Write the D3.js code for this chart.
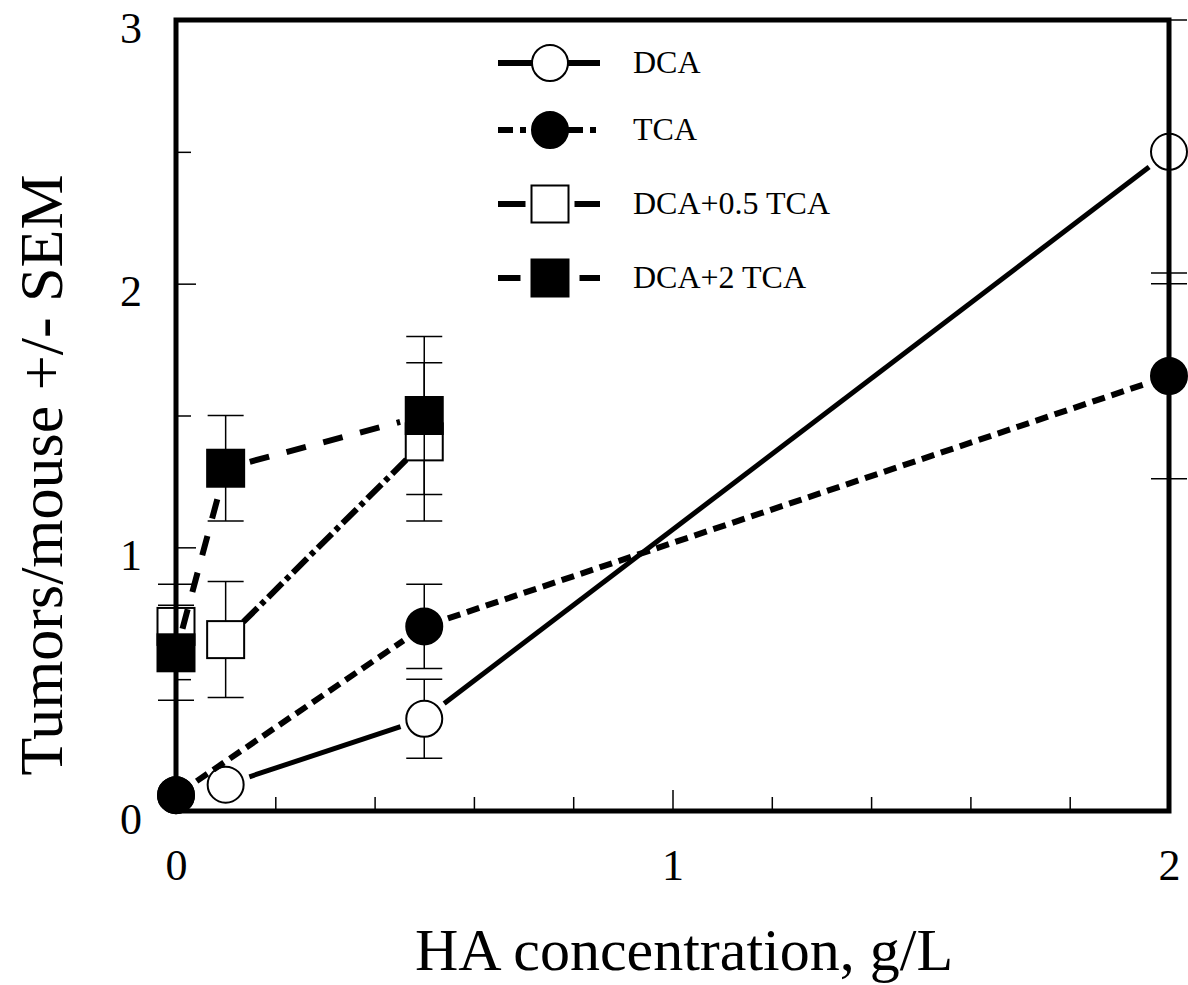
<!DOCTYPE html>
<html>
<head>
<meta charset="utf-8">
<script src="https://cdn.jsdelivr.net/npm/d3@7"></script>
<style>
  body { margin: 0; background: #fff; }
  text { font-family: "Liberation Serif", "Times New Roman", serif; fill: #000; }
</style>
</head>
<body>
<script>
// values
const seriesNames = ["DCA", "TCA", "DCA+0.5 TCA", "DCA+2 TCA"];

const dcaX = [0, 0.1, 0.5, 2];
const dcaY = [0.06, 0.10, 0.35, 2.50];
const dcaErr = [0, 0, 0.15, 0.50];

const tcaX = [0, 0.5, 2];
const tcaY = [0.06, 0.70, 1.65];
const tcaErr = [0, 0.16, 0.39];

const mix05X = [0, 0.1, 0.5];
const mix05Y = [0.70, 0.65, 1.40];
const mix05Err = [0.16, 0.22, 0.30];

const mix2X = [0, 0.1, 0.5];
const mix2Y = [0.60, 1.30, 1.50];
const mix2Err = [0.18, 0.20, 0.30];

const xLabels = [0, 1, 2];
const yLabels = [0, 1, 2, 3];
const xMinor = [0.2, 0.4, 0.6, 0.8, 1.2, 1.4, 1.6, 1.8];
const yMinor = [0.5, 1.5, 2.5];
const yMajor = [1, 2];

const SERIF = "'Liberation Serif', 'Times New Roman', serif";

function zip(xs, ys, es) {
  return xs.map((x, i) => ({x: x, y: ys[i], e: es[i]}));
}

const series = [
  {name: seriesNames[0], pts: zip(dcaX, dcaY, dcaErr), shape: "circle", fill: "#fff", dash: null, width: 5, legDash: null, legGap: 0},
  {name: seriesNames[1], pts: zip(tcaX, tcaY, tcaErr), shape: "circle", fill: "#000", dash: "13,7", width: 6, legDash: "15,7,6,7", legGap: 0},
  {name: seriesNames[2], pts: zip(mix05X, mix05Y, mix05Err), shape: "square", fill: "#fff", dash: "20,5,5,5", width: 6, legDash: null, legGap: 6},
  {name: seriesNames[3], pts: zip(mix2X, mix2Y, mix2Err), shape: "square", fill: "#000", dash: "20,18", width: 6, legDash: null, legGap: 11}
];

const W = 1188, H = 985;
const svg = d3.select("body").append("svg")
  .attr("width", W)
  .attr("height", H);

const x = d3.scaleLinear().domain([0, 2]).range([176, 1169]);
const y = d3.scaleLinear().domain([0, 3]).range([811, 20]);

const R = 18, S = 37, CAP = 18, TRIM = 25;

// ticks inside the frame
const gx = svg.append("g").attr("transform", "translate(0," + y(0) + ")");
gx.call(d3.axisBottom(x).tickValues(xMinor).tickSize(-14).tickFormat(""));
gx.append("g").call(d3.axisBottom(x).tickValues([1]).tickSize(-21).tickFormat(""));
gx.append("g").attr("class", "lab").call(d3.axisBottom(x).tickValues(xLabels).tickSize(0).tickFormat(d3.format("d")));

const gy = svg.append("g").attr("transform", "translate(" + x(0) + ",0)");
gy.call(d3.axisLeft(y).tickValues(yMinor).tickSize(-15).tickFormat(""));
gy.append("g").call(d3.axisLeft(y).tickValues(yMajor).tickSize(-20).tickFormat(""));
gy.append("g").attr("class", "lab").call(d3.axisLeft(y).tickValues(yLabels).tickSize(0).tickPadding(34).tickFormat(d3.format("d")));

svg.selectAll(".domain").remove();
svg.selectAll(".tick line").attr("stroke", "#000").attr("stroke-width", 1.5);
gx.selectAll(".lab text").attr("y", 69).attr("dy", 0).attr("font-size", 44)
  .style("font-family", SERIF);
gy.selectAll(".lab text").attr("dy", 22).attr("font-size", 44)
  .style("font-family", SERIF);

// data
const plot = svg.append("g");
series.forEach(s => {
  const g = plot.append("g");
  // error bars
  const eb = g.selectAll(".eb").data(s.pts.filter(p => p.e > 0)).join("g");
  eb.append("line")
    .attr("x1", p => x(p.x)).attr("x2", p => x(p.x))
    .attr("y1", p => y(p.y - p.e)).attr("y2", p => y(p.y + p.e));
  eb.append("line")
    .attr("x1", p => x(p.x) - CAP).attr("x2", p => x(p.x) + CAP)
    .attr("y1", p => y(p.y + p.e)).attr("y2", p => y(p.y + p.e));
  eb.append("line")
    .attr("x1", p => x(p.x) - CAP).attr("x2", p => x(p.x) + CAP)
    .attr("y1", p => y(p.y - p.e)).attr("y2", p => y(p.y - p.e));
  eb.selectAll("line").attr("stroke", "#000").attr("stroke-width", 1.5);

  // connecting segments, stopped short of the markers
  const segs = d3.pairs(s.pts).map(([a, b]) => {
    const x1 = x(a.x), y1 = y(a.y), x2 = x(b.x), y2 = y(b.y);
    const len = Math.hypot(x2 - x1, y2 - y1);
    const ux = (x2 - x1) / len, uy = (y2 - y1) / len;
    return {len: len, x1: x1 + ux * TRIM, y1: y1 + uy * TRIM, x2: x2 - ux * TRIM, y2: y2 - uy * TRIM};
  }).filter(d => d.len > 2 * TRIM + 2);
  g.selectAll(".seg").data(segs).join("line")
    .attr("x1", d => d.x1).attr("y1", d => d.y1)
    .attr("x2", d => d.x2).attr("y2", d => d.y2)
    .attr("stroke", "#000")
    .attr("stroke-width", s.width)
    .attr("stroke-dasharray", s.dash);

  // markers
  if (s.shape === "circle") {
    g.selectAll(".m").data(s.pts).join("circle")
      .attr("cx", p => x(p.x)).attr("cy", p => y(p.y)).attr("r", R);
  } else {
    g.selectAll(".m").data(s.pts).join("rect")
      .attr("x", p => x(p.x) - S / 2).attr("y", p => y(p.y) - S / 2)
      .attr("width", S).attr("height", S);
  }
  g.selectAll("circle, rect").attr("fill", s.fill).attr("stroke", "#000").attr("stroke-width", 2);
});

// frame on top
svg.append("rect")
  .attr("x", x(0)).attr("y", y(3))
  .attr("width", x(2) - x(0)).attr("height", y(0) - y(3))
  .attr("fill", "none").attr("stroke", "#000").attr("stroke-width", 5);

// legend
const legRows = [63, 130, 204, 278];
const leg = svg.append("g");
series.forEach((s, i) => {
  const cy = legRows[i], cx = 550;
  const half = s.shape === "circle" ? R : S / 2;
  [[498, cx - half - s.legGap], [cx + half + s.legGap, 600]].forEach(([a, b]) => {
    leg.append("line")
      .attr("x1", a).attr("x2", b).attr("y1", cy).attr("y2", cy)
      .attr("stroke", "#000").attr("stroke-width", 6)
      .attr("stroke-dasharray", s.legDash);
  });
  if (s.shape === "circle") {
    leg.append("circle").attr("cx", cx).attr("cy", cy).attr("r", R);
  } else {
    leg.append("rect").attr("x", cx - S / 2).attr("y", cy - S / 2).attr("width", S).attr("height", S);
  }
  leg.selectAll("circle, rect").filter((d, j, n) => n[j].getAttribute("fill") === null)
    .attr("fill", s.fill).attr("stroke", "#000").attr("stroke-width", 2);
  leg.append("text")
    .attr("x", 633).attr("y", cy + 10)
    .attr("font-size", 32)
    .style("font-family", SERIF)
    .text(s.name);
});

// axis titles
svg.append("text")
  .attr("x", 684).attr("y", 970)
  .attr("text-anchor", "middle")
  .attr("font-size", 60)
  .style("font-family", SERIF)
  .text("HA concentration, g/L");

svg.append("text")
  .attr("transform", "translate(62,475) rotate(-90)")
  .attr("text-anchor", "middle")
  .attr("font-size", 62)
  .style("font-family", SERIF)
  .text("Tumors/mouse +/- SEM");
</script>
</body>
</html>
